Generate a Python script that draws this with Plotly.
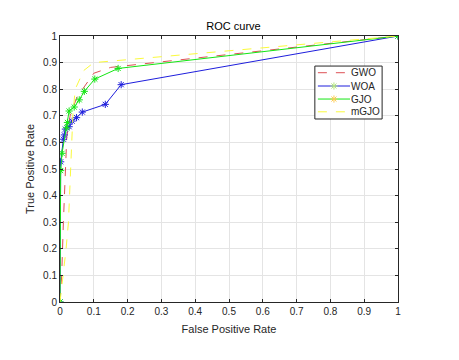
import plotly.graph_objects as go

# ROC curve points
gwo_fpr = [0, 0.005, 0.01, 0.015, 0.02, 0.03, 0.05, 0.1, 0.15, 1]
gwo_tpr = [0, 0.1, 0.3, 0.5, 0.62, 0.7, 0.77, 0.86, 0.882, 1]

woa_fpr = [0, 0.002, 0.01, 0.013, 0.016, 0.027, 0.036, 0.049, 0.066, 0.134, 0.181, 1]
woa_tpr = [0, 0.527, 0.612, 0.628, 0.65, 0.659, 0.68, 0.693, 0.714, 0.743, 0.817, 1]

gjo_fpr = [0, 0.002, 0.006, 0.02, 0.022, 0.027, 0.042, 0.057, 0.072, 0.103, 0.172, 1]
gjo_tpr = [0, 0.494, 0.559, 0.655, 0.675, 0.718, 0.733, 0.76, 0.792, 0.838, 0.878, 1]

mgjo_fpr = [0, 0.01, 0.018, 0.025, 0.028, 0.031, 0.034, 0.038, 0.045, 0.07, 0.1, 1]
mgjo_tpr = [0, 0.1, 0.2, 0.3, 0.41, 0.52, 0.62, 0.7, 0.8, 0.87, 0.9, 1]

ticks = [0, 0.1, 0.2, 0.3, 0.4, 0.5, 0.6, 0.7, 0.8, 0.9, 1]
tick_text = ['0', '0.1', '0.2', '0.3', '0.4', '0.5', '0.6', '0.7', '0.8', '0.9', '1']

names = ['GWO', 'WOA', 'GJO', 'mGJO']
colors = ['rgb(222,80,85)', 'rgb(30,30,220)', 'rgb(20,230,20)', 'rgb(250,250,60)']
dashes = ['dash', 'solid', 'solid', 'dash']
has_marker = [False, True, True, False]

FONT = 'Liberation Sans, Arial'
DARK = 'rgb(38,38,38)'

fig = go.Figure()

series = [(gwo_fpr, gwo_tpr), (woa_fpr, woa_tpr), (gjo_fpr, gjo_tpr), (mgjo_fpr, mgjo_tpr)]
for (fx, ty), name, col, dash, mk in zip(series, names, colors, dashes, has_marker):
    fig.add_trace(go.Scatter(
        x=fx, y=ty, mode='lines+markers' if mk else 'lines', name=name,
        line=dict(color=col, width=1, dash=dash),
        marker=dict(symbol='asterisk-open', size=6, line=dict(color=col, width=1)),
        showlegend=False,
    ))

# MATLAB-style legend box drawn on an overlaid 0..1 axis pair (compact rows)
lx0, lx1, ly0, ly1 = 0.754, 0.953, 0.688, 0.887
row_y = [0.862, 0.812, 0.763, 0.715]
fig.add_trace(go.Scatter(
    x=[lx0, lx1, lx1, lx0, lx0], y=[ly0, ly0, ly1, ly1, ly0],
    mode='lines', fill='toself', fillcolor='white',
    line=dict(color=DARK, width=1), xaxis='x2', yaxis='y2',
    showlegend=False, hoverinfo='skip',
))
for name, col, dash, mk, ry in zip(names, colors, dashes, has_marker, row_y):
    fig.add_trace(go.Scatter(
        x=[0.763, 0.858], y=[ry, ry], mode='lines',
        line=dict(color=col, width=1, dash=dash),
        xaxis='x2', yaxis='y2', showlegend=False, hoverinfo='skip',
    ))
    if mk:
        fig.add_trace(go.Scatter(
            x=[0.8105], y=[ry], mode='markers',
            marker=dict(symbol='asterisk-open', size=6, line=dict(color=col, width=1)),
            xaxis='x2', yaxis='y2', showlegend=False, hoverinfo='skip',
        ))
    fig.add_annotation(
        x=0.862, y=ry, xref='x2', yref='y2', text=name, showarrow=False,
        xanchor='left', yanchor='middle', xshift=-2,
        font=dict(family=FONT, size=10, color=DARK),
    )

axis_style = dict(
    range=[0, 1], tickvals=ticks, ticktext=tick_text,
    showline=True, linecolor=DARK, linewidth=1, mirror='allticks',
    ticks='inside', ticklen=3, tickcolor=DARK,
    showgrid=True, gridcolor='rgb(228,228,228)', zeroline=False,
    tickfont=dict(family=FONT, size=10, color=DARK),
)

fig.update_layout(
    width=451, height=352,
    margin=dict(l=52, r=61, t=28, b=58),
    paper_bgcolor='white', plot_bgcolor='white',
    title=dict(text='ROC curve', x=0.5, xanchor='center', y=0.949, yanchor='middle',
               font=dict(family=FONT, size=11, color='black')),
    xaxis=dict(axis_style, title=dict(text='False Positive Rate', standoff=9,
               font=dict(family=FONT, size=11, color=DARK))),
    yaxis=dict(axis_style, title=dict(text='True Positive Rate', standoff=6,
               font=dict(family=FONT, size=11, color=DARK))),
    xaxis2=dict(overlaying='x', range=[0, 1], visible=False),
    yaxis2=dict(overlaying='y', range=[0, 1], visible=False),
    showlegend=False,
)

fig.write_html("out.html")
